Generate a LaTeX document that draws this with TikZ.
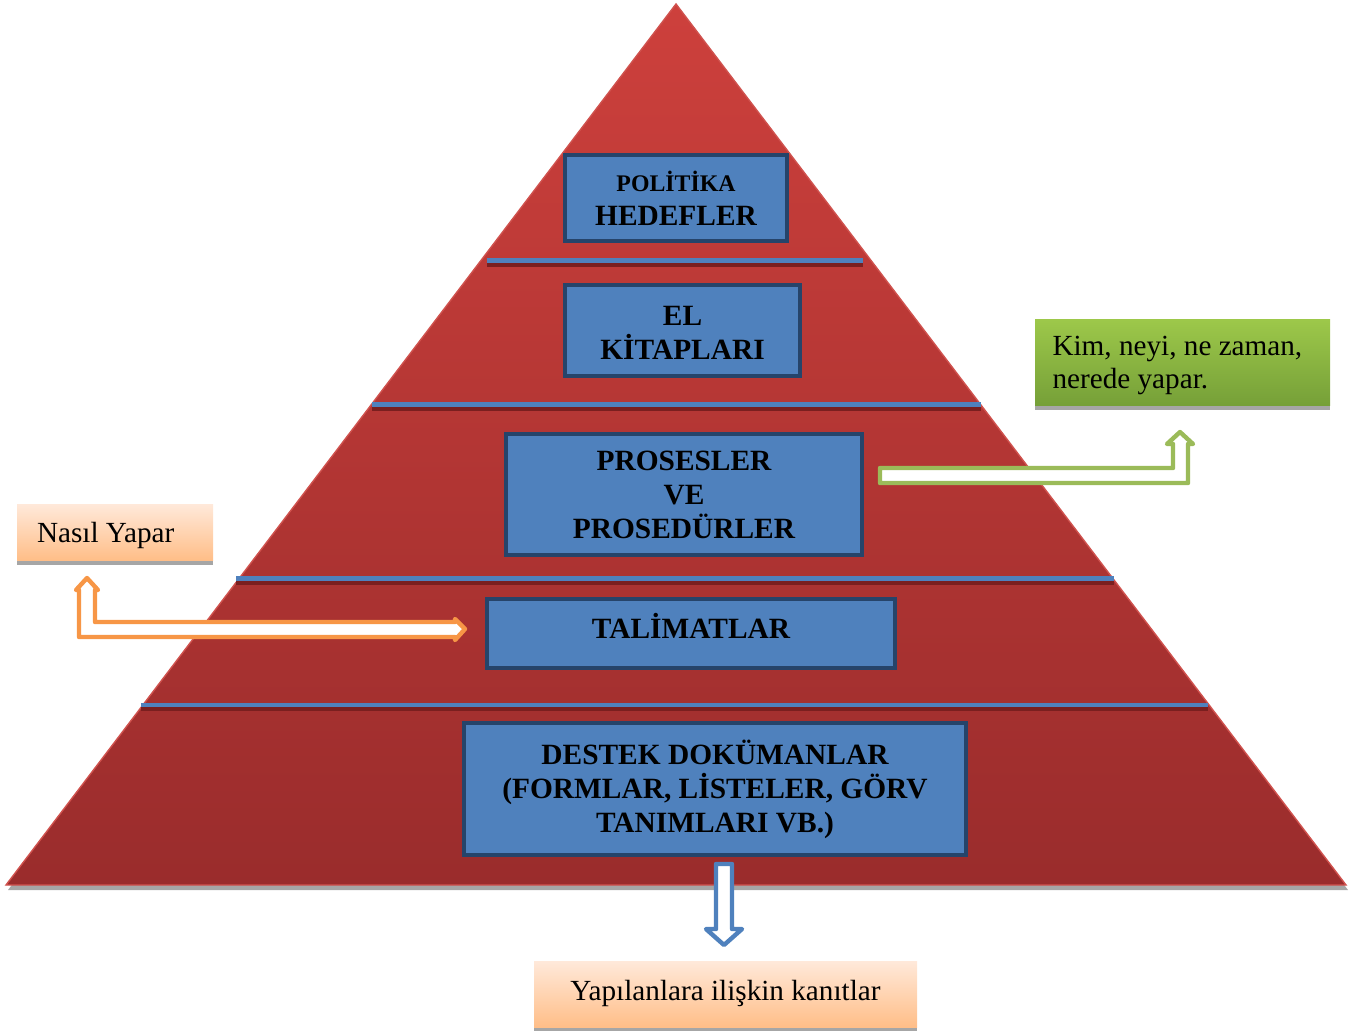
\documentclass[tikz,border=0pt]{standalone}
\usepackage{fontspec}
\setmainfont{Liberation Serif}
\usetikzlibrary{backgrounds}
\definecolor{boxblue}{HTML}{4F81BD}
\definecolor{boxedge}{HTML}{26446A}
\definecolor{redtop}{HTML}{CD403C}
\definecolor{redbot}{HTML}{9A2C2C}
\definecolor{rededge}{HTML}{D0524E}
\definecolor{sepdark}{HTML}{7A1F1F}
\definecolor{peachtop}{HTML}{FFE9DA}
\definecolor{peachbot}{HTML}{FFBE88}
\definecolor{greentop}{HTML}{9DC84A}
\definecolor{greenbot}{HTML}{76A038}
\definecolor{arrorange}{HTML}{F79646}
\definecolor{arrgreen}{HTML}{9BBB59}
\definecolor{shadowgray}{HTML}{A6A6A6}
\tikzset{
  level/.style={draw=boxedge, line width=2pt, fill=boxblue, inner sep=0pt,
    align=center, font=\bfseries\fontsize{14.7}{17}\selectfont},
  note/.style={inner sep=0pt, align=left, font=\fontsize{14.6}{16.5}\selectfont},
  sepblue/.style={fill=boxblue},
  sepred/.style={fill=sepdark},
  blockarrow/.style={line width=2.2pt, fill=white, line join=round},
}
\newcommand{\shiftup}[2]{\raisebox{#1}[\height][\depth]{#2}}
\begin{document}
\begin{tikzpicture}[x=0.5pt,y=-0.5pt]
\useasboundingbox (0,0) rectangle (1360,1030);
% pyramid shadow and body
\fill[shadowgray] (678,9) -- (1348,890) -- (8,890) -- cycle;
\shade[top color=redtop, bottom color=redbot] (676,4) -- (1346,885) -- (6,885) -- cycle;
\draw[draw=rededge, line width=0.7pt] (676,4) -- (1346,885) -- (6,885) -- cycle;
% separators
\fill[sepred] (487,263) rectangle (863,267);
\fill[sepblue] (487,258) rectangle (863,263);
\fill[sepred] (372,407) rectangle (981,411);
\fill[sepblue] (372,402) rectangle (981,407);
\fill[sepred] (236,581) rectangle (1114,585);
\fill[sepblue] (236,576) rectangle (1114,581);
\fill[sepred] (141,707) rectangle (1208,711);
\fill[sepblue] (141,703) rectangle (1208,707);
% level boxes
\node[level, minimum width=111pt, minimum height=43pt] (pol) at (676,198)
  {{\fontsize{11.9}{15}\selectfont POLİTİKA}\\HEDEFLER};
\node[level, minimum width=117.5pt, minimum height=45.5pt] (el) at (682.5,330.5)
  {\shiftup{-1pt}{EL}\\\shiftup{-1pt}{KİTAPLARI}};
\node[level, minimum width=178pt, minimum height=60.5pt] (pro) at (684,494.5)
  {PROSESLER\\VE\\PROSEDÜRLER};
\node[level, minimum width=204pt, minimum height=34.5pt] (tal) at (691,633.5)
  {\shiftup{4pt}{TALİMATLAR}};
\node[level, minimum width=251pt, minimum height=66pt] (des) at (715,789)
  {DESTEK DOKÜMANLAR\\(FORMLAR, LİSTELER, GÖRV\\TANIMLARI VB.)};
% note boxes
\node[note, top color=peachtop, bottom color=peachbot, minimum width=98pt, minimum height=28pt]
  (nasil) at (115,532) {\shiftup{-1.5pt}{\makebox[78pt][l]{Nasıl Yapar}}};
\node[note, top color=greentop, bottom color=greenbot, minimum width=147.5pt, minimum height=43pt]
  (kim) at (1182.5,362)
  {\shiftup{-1.5pt}{\makebox[130pt][l]{Kim, neyi, ne zaman,}}\\
   \shiftup{-1.5pt}{\makebox[130pt][l]{nerede yapar.}}};
\node[note, top color=peachtop, bottom color=peachbot, minimum width=191.5pt, minimum height=33pt,
  align=center] (yap) at (725.5,994) {\shiftup{0.5pt}{Yapılanlara ilişkin kanıtlar}};
\begin{scope}[on background layer]
\fill[shadowgray] ([yshift=-2.5pt]nasil.south west) rectangle (nasil.south east);
\fill[shadowgray] ([yshift=-2.5pt]kim.south west) rectangle (kim.south east);
\fill[shadowgray] ([yshift=-2.5pt]yap.south west) rectangle (yap.south east);
\end{scope}
% connectors (block arrows)
\draw[blockarrow, draw=arrorange]
  (465,629) -- (455,619) -- (455,622) -- (95,622) -- (95,590) -- (98,590) -- (87,578)
  -- (76,590) -- (79,590) -- (79,637) -- (455,637) -- (455,640) -- cycle;
\draw[blockarrow, draw=arrgreen]
  (880,468) -- (1173,468) -- (1173,444) -- (1167,444) -- (1180,432) -- (1193,444)
  -- (1188,444) -- (1188,483) -- (880,483) -- cycle;
\draw[blockarrow, draw=boxblue]
  (716,864) -- (732,864) -- (732,929) -- (742,929) -- (724,945) -- (706,929)
  -- (716,929) -- cycle;
\end{tikzpicture}
\end{document}
